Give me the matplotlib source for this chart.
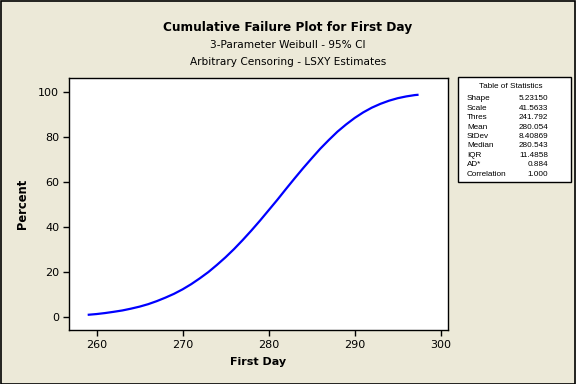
import matplotlib.pyplot as plt
from matplotlib.patches import Rectangle

# values
first_day = [259.1, 260, 261, 262, 263, 264, 265, 266, 267, 268, 269, 270, 271, 272,
             273, 274, 275, 276, 277, 278, 279, 280, 281, 282, 283, 284, 285, 286,
             287, 288, 289, 290, 291, 292, 293, 294, 295, 296, 297, 297.3]
percent = [1.0, 1.3, 1.75, 2.3, 2.9, 3.7, 4.6, 5.7, 7.05, 8.6, 10.3, 12.3, 14.6, 17.2,
           20.0, 23.2, 26.6, 30.3, 34.3, 38.5, 42.9, 47.5, 52.1, 56.9, 61.6, 66.2, 70.6, 74.9,
           78.8, 82.5, 85.7, 88.6, 91.1, 93.2, 94.9, 96.3, 97.4, 98.2, 98.8, 98.9]

stat_names = ["Shape", "Scale", "Thres", "Mean", "StDev", "Median", "IQR", "AD*", "Correlation"]
stat_values = ["5.23150", "41.5633", "241.792", "280.054", "8.40869", "280.543",
               "11.4858", "0.884", "1.000"]

bg = "#ECE9D8"
fig = plt.figure(figsize=(5.76, 3.84), dpi=100, facecolor=bg)
W, H = 576, 384

ax = fig.add_axes([69 / W, 1 - 330 / H, (448 - 69) / W, (330 - 78) / H])
ax.set_facecolor("white")

ax.plot(first_day, percent, color="#0000FF", lw=1.6)

ax.set_xlim(256.8, 300.85)
ax.set_ylim(-5.8, 106.4)
ax.set_xticks([260, 270, 280, 290, 300])
ax.set_yticks([0, 20, 40, 60, 80, 100])
ax.tick_params(direction="out", length=4, width=1, labelsize=8, pad=3)
for s in ax.spines.values():
    s.set_linewidth(1)
ax.set_xlabel("First Day", fontsize=8, fontweight="bold", labelpad=5)
ax.set_ylabel("Percent", fontsize=8.3, fontweight="bold", labelpad=7)

fig.text(0.5, 1 - 28 / H, "Cumulative Failure Plot for First Day", ha="center", va="center",
         fontsize=8.7, fontweight="bold")
fig.text(0.5, 1 - 45 / H, "3-Parameter Weibull - 95% CI", ha="center", va="center", fontsize=7.6)
fig.text(0.5, 1 - 62 / H, "Arbitrary Censoring - LSXY Estimates", ha="center", va="center", fontsize=7.6)

# table of statistics
bx0, by0, bx1, by1 = 458, 77, 571, 182
fig.patches.append(Rectangle((bx0 / W, 1 - by1 / H), (bx1 - bx0) / W, (by1 - by0) / H,
                             transform=fig.transFigure, facecolor="white", edgecolor="black", lw=1))
tfont = dict(family="Liberation Sans", fontsize=5.9)
fig.text(511 / W, 1 - 87 / H, "Table of Statistics", ha="center", va="center", **tfont)
for i, (n, v) in enumerate(zip(stat_names, stat_values)):
    y = 1 - (99 + i * 9.4) / H
    fig.text(467 / W, y, n, ha="left", va="center", **tfont)
    fig.text(548 / W, y, v, ha="right", va="center", **tfont)

fig.patches.append(Rectangle((0.5 / W, 0.5 / H), (W - 1.5) / W, (H - 1.5) / H,
                             transform=fig.transFigure, facecolor="none", edgecolor="black", lw=1.2))

fig.savefig("out.png", dpi=100, facecolor=bg)
